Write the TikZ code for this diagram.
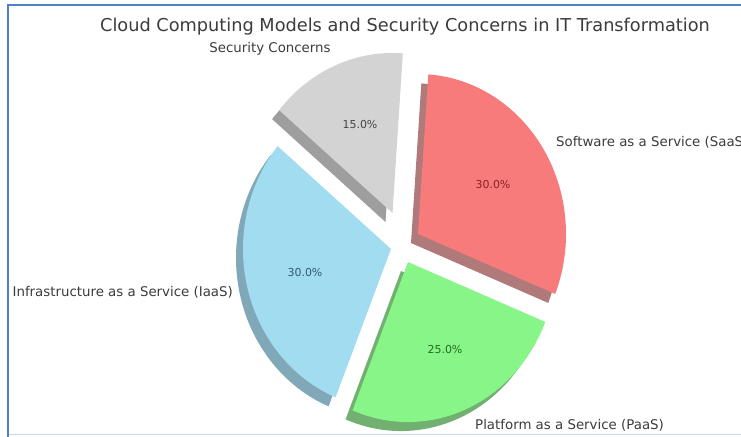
\documentclass[tikz,border=0pt]{standalone}
\usepackage{fontspec}
\setmainfont{DejaVu Sans}

\definecolor{frameblue}{HTML}{5080C8}
\definecolor{framelight}{HTML}{C2D6EE}
\definecolor{txt}{HTML}{3C3C3C}
% slice faces
\definecolor{secface}{HTML}{D3D3D3}
\definecolor{saasface}{HTML}{F77B7B}
\definecolor{paasface}{HTML}{88F588}
\definecolor{iaasface}{HTML}{A2DCF0}
% slice shadows
\definecolor{secshade}{HTML}{9E9E9E}
\definecolor{saasshade}{HTML}{B07A7A}
\definecolor{paasshade}{HTML}{72B072}
\definecolor{iaasshade}{HTML}{80A8B8}
% percentage texts
\definecolor{secpct}{HTML}{464646}
\definecolor{saaspct}{HTML}{8C2222}
\definecolor{paaspct}{HTML}{206E20}
\definecolor{iaaspct}{HTML}{2C5C72}

% wedge: apex, start angle, end angle, offset of the apex
\newcommand\pieslice[4]{([shift={#4}]#1) -- ++(#2:148 and 160)
  arc[start angle=#2, end angle=#3, x radius=148, y radius=160] -- cycle}

\begin{document}
\begin{tikzpicture}[x=1bp,y=1bp,
  title/.style={font=\fontsize{17.8}{20}\selectfont, text=txt, inner sep=0pt},
  label/.style={font=\fontsize{13.4}{15}\selectfont, text=txt, inner sep=0pt},
  pct/.style={font=\fontsize{11}{13}\selectfont, inner sep=0pt}]
\useasboundingbox (0,0) rectangle (741,437);
\fill[white] (0,0) rectangle (741,437);

% apex of each exploded wedge
\coordinate (aSec)  at (392.5,224);
\coordinate (aSaaS) at (418,203);
\coordinate (aPaaS) at (408,175);
\coordinate (aIaaS) at (391,188);

% shadows, dropped down and to the left
\def\drop{(-7,-9)}
\fill[secshade]  \pieslice{aSec}{86}{140}{\drop};
\fill[saasshade] \pieslice{aSaaS}{-22}{86}{\drop};
\fill[paasshade] \pieslice{aPaaS}{248}{338}{\drop};
\fill[iaasshade] \pieslice{aIaaS}{140}{248}{\drop};

% wedges
\def\nodrop{(0,0)}
\fill[secface]  \pieslice{aSec}{86}{140}{\nodrop};
\fill[saasface] \pieslice{aSaaS}{-22}{86}{\nodrop};
\fill[paasface] \pieslice{aPaaS}{248}{338}{\nodrop};
\fill[iaasface] \pieslice{aIaaS}{140}{248}{\nodrop};

% percentages
\node[pct, text=secpct]  (pSec)  at (360,312) {15.0\%};
\node[pct, text=saaspct] (pSaaS) at (493,252) {30.0\%};
\node[pct, text=paaspct] (pPaaS) at (445,87)  {25.0\%};
\node[pct, text=iaaspct] (pIaaS) at (305,164) {30.0\%};

% category labels
\node[label] (lSec) at (270,388) {Security Concerns};
\node[label, anchor=west] (lSaaS) at (556,295) {Software as a Service (SaaS)};
\node[label, anchor=east] (lIaaS) at (233,145) {Infrastructure as a Service (IaaS)};
\node[label, anchor=west] (lPaaS) at (475,12)  {Platform as a Service (PaaS)};

% title
\node[title] (ttl) at (405,410) {Cloud Computing Models and Security Concerns in IT Transformation};

% surrounding frame
\draw[framelight, line width=1.5] (9,2.5) -- (741,2.5);
\draw[frameblue, line width=2] (8,0) -- (8,433);
\draw[frameblue, line width=2] (7,432) -- (741,432);
\end{tikzpicture}
\end{document}
